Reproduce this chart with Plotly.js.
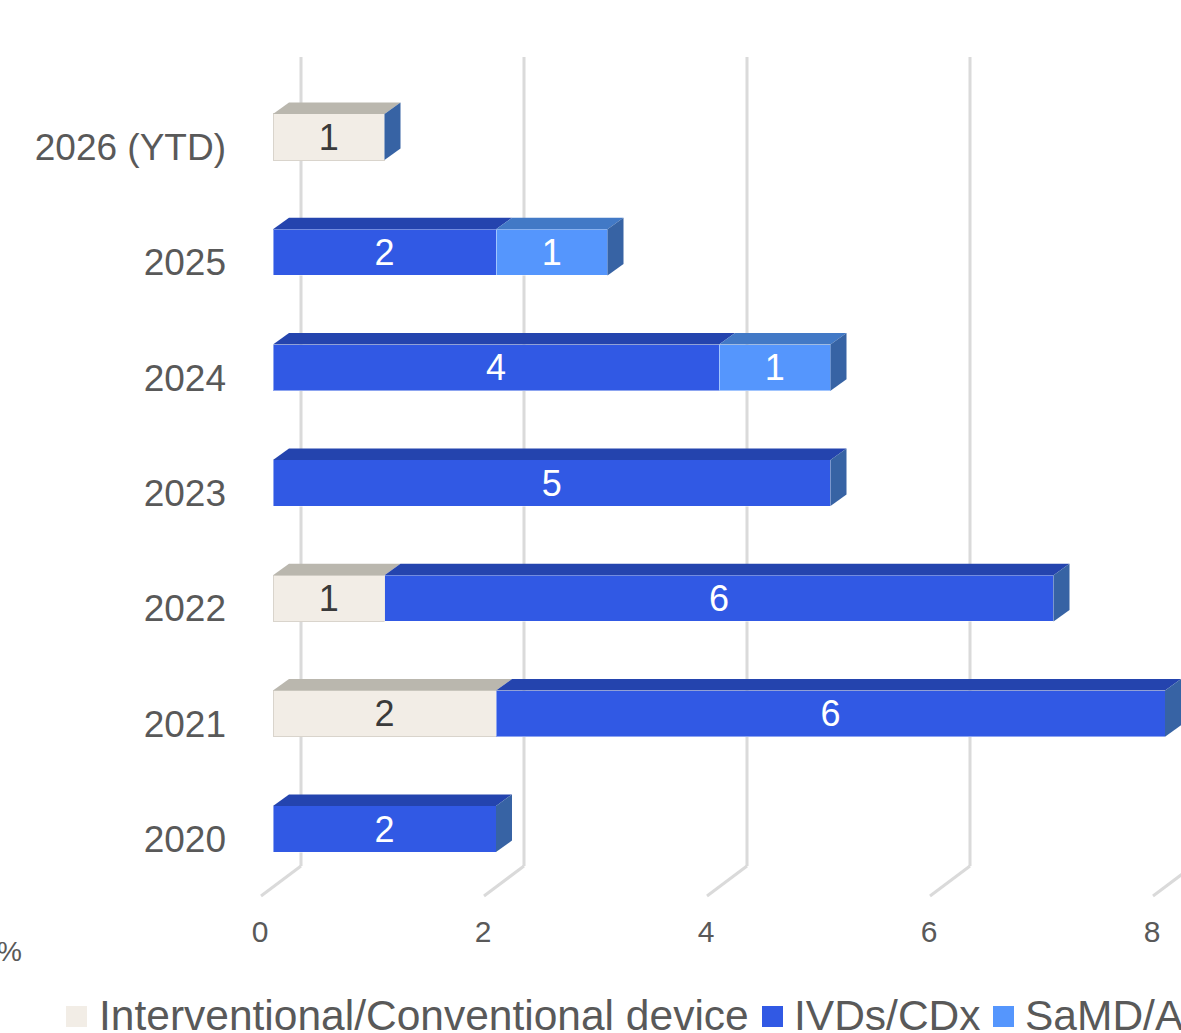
<!DOCTYPE html>
<html><head><meta charset="utf-8">
<script src="https://cdn.plot.ly/plotly-3.0.1.min.js"></script>
<style>html,body{margin:0;padding:0;background:#fff;overflow:hidden}</style>
</head><body><div id="chart" style="width:1181px;height:1033px"></div>
<script>
// ---- data ----
const categories = ['2020', '2021', '2022', '2023', '2024', '2025', '2026 (YTD)'];
const seriesNames = ['Interventional/Conventional device', 'IVDs/CDx', 'SaMD/AI'];
const interventional = [0, 2, 1, 0, 0, 0, 1];
const ivds = [2, 6, 6, 5, 4, 2, 0];
const samd = [0, 0, 0, 0, 1, 1, 0];
const xTickVals = [0, 2, 4, 6, 8];
const cutLabel = '%';

// ---- styling / geometry ----
const FONT = '"Liberation Sans", Arial, sans-serif';
const frontColors = ['#F2EDE6', '#3159E4', '#5596FD'];
const topColors = ['#BAB7AE', '#2444AE', '#4279C6'];
const edgeColors = ['#D9D4CC', 'rgba(255,255,255,0.45)', 'rgba(255,255,255,0.45)'];
const textColors = ['#3a3a3a', '#ffffff', '#ffffff'];
const sideColor = '#3763A4';
const gridColor = '#DADADA';
const W0 = 1181, H0 = 1033;
const L = 240, R = 1181, T = 40, B = 900;
const PW = R - L, PH = B - T;
const pxPerUnit = 111.5;          // x scale (px per value)
const barZeroPx = 273;            // front face zero
const gridZeroPx = 301;           // back-wall zero
const catZeroPx = 829;            // front-face centre of first category
const pxPerCat = 115.33;
const barWidth = 0.4;
const depthX = 16, depthY = 11.5; // bar depth in px
const floorDX = 40, floorDY = 30; // floor depth in px
const wallTopPx = 57, wallBottomPx = 866;

const px2paperX = p => (p - L) / PW;
const px2paperY = p => (B - p) / PH;

const series = [interventional, ivds, samd];
const txt = arr => arr.map(v => v ? String(v) : '');

const traces = [];
// helper trace to create the back-wall subplot
traces.push({type: 'scatter', mode: 'markers', x: [null], y: [null], xaxis: 'x', yaxis: 'y', showlegend: false, hoverinfo: 'skip'});
series.forEach((vals, i) => {
  traces.push({
    type: 'bar', orientation: 'h', name: seriesNames[i],
    y: categories.map((c, k) => k), x: vals,
    xaxis: 'x2', yaxis: 'y2', width: barWidth,
    marker: {color: frontColors[i], line: {color: edgeColors[i], width: 1}},
    text: txt(vals), textposition: 'inside', insidetextanchor: 'middle',
    textangle: 0, constraintext: 'none',
    textfont: {family: FONT, size: 36, color: textColors[i]},
    showlegend: false, hoverinfo: 'x+name'
  });
});

// 3D faces computed from the data
const dxU = depthX / pxPerUnit, dyU = depthY / pxPerCat;
const shapes = [];
categories.forEach((c, k) => {
  let start = 0;
  const yTop = k + barWidth / 2, yBot = k - barWidth / 2;
  series.forEach((vals, i) => {
    const v = vals[k];
    if (!v) return;
    const a = start, b = start + v;
    shapes.push({type: 'path', xref: 'x2', yref: 'y2', layer: 'above',
      path: `M${a},${yTop} L${b},${yTop} L${b + dxU},${yTop + dyU} L${a + dxU},${yTop + dyU} Z`,
      fillcolor: topColors[i], line: {width: 0}});
    start = b;
  });
  shapes.push({type: 'path', xref: 'x2', yref: 'y2', layer: 'above',
    path: `M${start},${yBot} L${start},${yTop} L${start + dxU},${yTop + dyU} L${start + dxU},${yBot + dyU} Z`,
    fillcolor: sideColor, line: {width: 0}});
});
// back-wall grid lines and floor lines at each tick
xTickVals.forEach(v => {
  shapes.push({type: 'line', xref: 'x', yref: 'paper', layer: 'below',
    x0: v, x1: v, y0: px2paperY(wallBottomPx), y1: px2paperY(wallTopPx),
    line: {color: gridColor, width: 3}});
  shapes.push({type: 'line', xref: 'x', yref: 'paper', layer: 'below',
    x0: v, x1: v - floorDX / pxPerUnit,
    y0: px2paperY(wallBottomPx), y1: px2paperY(wallBottomPx + floorDY),
    line: {color: gridColor, width: 3}});
});

// custom legend
const legendSquares = [66, 762, 993];
const legendTextX = [98, 793, 1024];
const annotations = [];
seriesNames.forEach((n, i) => {
  shapes.push({type: 'rect', xref: 'paper', yref: 'paper',
    x0: px2paperX(legendSquares[i]), x1: px2paperX(legendSquares[i] + 21),
    y0: px2paperY(1006), y1: px2paperY(1027),
    fillcolor: frontColors[i], line: {width: 0}});
  annotations.push({xref: 'paper', yref: 'paper', x: px2paperX(legendTextX[i]), y: px2paperY(1016),
    xanchor: 'left', yanchor: 'middle', showarrow: false, borderpad: 0,
    text: n, font: {family: FONT, size: 42.5, color: '#595959'}});
});
annotations.push({xref: 'paper', yref: 'paper', x: px2paperX(23), y: px2paperY(951),
  xanchor: 'right', yanchor: 'middle', showarrow: false, borderpad: 0,
  text: cutLabel, font: {family: FONT, size: 28, color: '#595959'}});

const layout = {
  width: W0, height: H0,
  margin: {l: L, r: W0 - R, t: T, b: H0 - B, pad: 0},
  paper_bgcolor: '#ffffff', plot_bgcolor: 'rgba(0,0,0,0)',
  barmode: 'stack', showlegend: false,
  font: {family: FONT, color: '#595959'},
  // back wall
  xaxis: {domain: [0, 1], anchor: 'y',
    range: [(L - gridZeroPx) / pxPerUnit, (R - gridZeroPx) / pxPerUnit],
    showticklabels: false, ticks: '', showgrid: false,
    zeroline: false, showline: false, fixedrange: true},
  yaxis: {domain: [0, 1], anchor: 'x', range: [0, 1],
    visible: false, showgrid: false, zeroline: false, fixedrange: true},
  // bar front faces
  xaxis2: {domain: [0, 1], anchor: 'y2',
    range: [(L - barZeroPx) / pxPerUnit, (R - barZeroPx) / pxPerUnit],
    tickvals: xTickVals, ticktext: xTickVals.map(String), ticks: '',
    ticklabelshift: -13, ticklabelstandoff: 11,
    tickfont: {family: FONT, size: 30, color: '#595959'},
    showgrid: false, zeroline: false, showline: false, fixedrange: true},
  yaxis2: {domain: [0, 1], anchor: 'x2',
    range: [(catZeroPx - B) / pxPerCat, (catZeroPx - T) / pxPerCat],
    tickvals: categories.map((c, k) => k), ticktext: categories, ticks: '',
    ticklabelshift: 10, ticklabelstandoff: 13,
    tickfont: {family: FONT, size: 37, color: '#595959'},
    showgrid: false, zeroline: false, showline: false, fixedrange: true},
  shapes: shapes, annotations: annotations
};
Plotly.newPlot('chart', traces, layout, {displayModeBar: false, staticPlot: true});
</script></body></html>
